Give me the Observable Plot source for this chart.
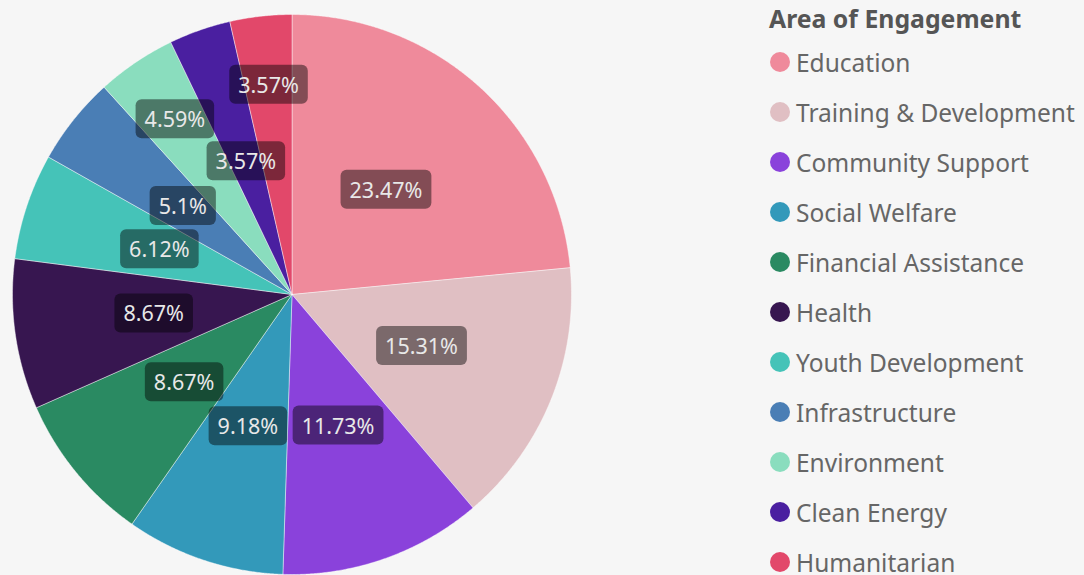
<!DOCTYPE html>
<html>
<head>
<meta charset="utf-8">
<script src="https://cdn.jsdelivr.net/npm/d3@7"></script>
<script src="https://cdn.jsdelivr.net/npm/@observablehq/plot@0.6"></script>
<style>
  html, body { margin: 0; padding: 0; background: #f6f6f6; }
  #wrap { position: relative; width: 1084px; height: 575px; overflow: hidden; font-family: "Noto Sans", sans-serif; }
  #pie { position: absolute; left: 0; top: 0; }
  #legend { position: absolute; left: 769px; top: 0; color: #666; }
  #legend .title { font-weight: bold; font-size: 24.8px; color: #555; height: 37px; line-height: 37px; }
  #legend .item { height: 50px; display: flex; align-items: center; font-size: 24.5px; white-space: nowrap; }
  #legend .dot { width: 20px; height: 20px; border-radius: 50%; margin-left: 1px; margin-right: 6px; flex: none; }
</style>
</head>
<body>
<div id="wrap">
  <div id="pie"></div>
  <div id="legend"></div>
</div>
<script>
const legendTitle = "Area of Engagement";
const categories = ["Education", "Training & Development", "Community Support", "Social Welfare", "Financial Assistance", "Health", "Youth Development", "Infrastructure", "Environment", "Clean Energy", "Humanitarian"];
const shares = [23.47, 15.31, 11.73, 9.18, 8.67, 8.67, 6.12, 5.1, 4.59, 3.57, 3.57];
const colors = ["#ef8a9b", "#e0bfc3", "#8a42db", "#3399ba", "#2a8a62", "#371650", "#45c3b8", "#4a7eb5", "#8addbe", "#4a1fa0", "#e2486a"];

const rows = categories.map((c, i) => ({category: c, share: shares[i]}));
const arcs = d3.pie().sort(null).value(d => d.share)(rows);

// slice outlines (geometry of each wedge in unit-circle coordinates)
const wedgePts = [];
arcs.forEach(a => {
  const c = a.data.category;
  wedgePts.push({category: c, x: 0, y: 0});
  const n = Math.max(2, Math.ceil((a.endAngle - a.startAngle) / 0.005));
  for (let k = 0; k <= n; k++) {
    const t = a.startAngle + (a.endAngle - a.startAngle) * k / n;
    wedgePts.push({category: c, x: Math.sin(t), y: Math.cos(t)});
  }
  wedgePts.push({category: c, x: 0, y: 0});
});

// label positions: middle of wedge, pushed out for two crowded slices
const outward = new Set(["Environment", "Humanitarian"]);
const labels = arcs.map(a => {
  const m = (a.startAngle + a.endAngle) / 2;
  const r = outward.has(a.data.category) ? 0.75 : 0.5;
  return {category: a.data.category, x: r * Math.sin(m), y: r * Math.cos(m), text: a.data.share + "%"};
});

const chart = Plot.plot({
  width: 600,
  height: 575,
  marginLeft: 12,
  marginRight: 29,
  marginTop: 14,
  marginBottom: 1,
  style: {background: "transparent", fontFamily: "Noto Sans, sans-serif"},
  x: {domain: [-1, 1], axis: null},
  y: {domain: [-1, 1], axis: null},
  color: {type: "ordinal", domain: categories, range: colors},
  marks: [
    Plot.line(wedgePts, {x: "x", y: "y", z: "category", fill: "category", stroke: "#ffffff", strokeOpacity: 0.55, strokeWidth: 0.8, curve: "linear"}),
    Plot.text(labels, {x: "x", y: "y", text: "text", fill: "#e8e8e8", fontSize: 21.5})
  ]
});
document.getElementById("pie").appendChild(chart);

// rounded dark backgrounds behind the labels
chart.querySelectorAll("text").forEach(t => {
  const bb = t.getBBox();
  const r = document.createElementNS("http://www.w3.org/2000/svg", "rect");
  r.setAttribute("x", bb.x - 9);
  r.setAttribute("y", bb.y - 5);
  r.setAttribute("width", bb.width + 18);
  r.setAttribute("height", bb.height + 10);
  r.setAttribute("rx", 6);
  r.setAttribute("fill", "rgba(0,0,0,0.45)");
  if (t.getAttribute("transform")) r.setAttribute("transform", t.getAttribute("transform"));
  t.parentNode.insertBefore(r, t);
});

// legend
const leg = document.getElementById("legend");
const title = document.createElement("div");
title.className = "title";
title.textContent = legendTitle;
leg.appendChild(title);
categories.forEach((c, i) => {
  const it = document.createElement("div");
  it.className = "item";
  const dot = document.createElement("span");
  dot.className = "dot";
  dot.style.background = colors[i];
  const lab = document.createElement("span");
  lab.textContent = c;
  it.appendChild(dot);
  it.appendChild(lab);
  leg.appendChild(it);
});
</script>
</body>
</html>
